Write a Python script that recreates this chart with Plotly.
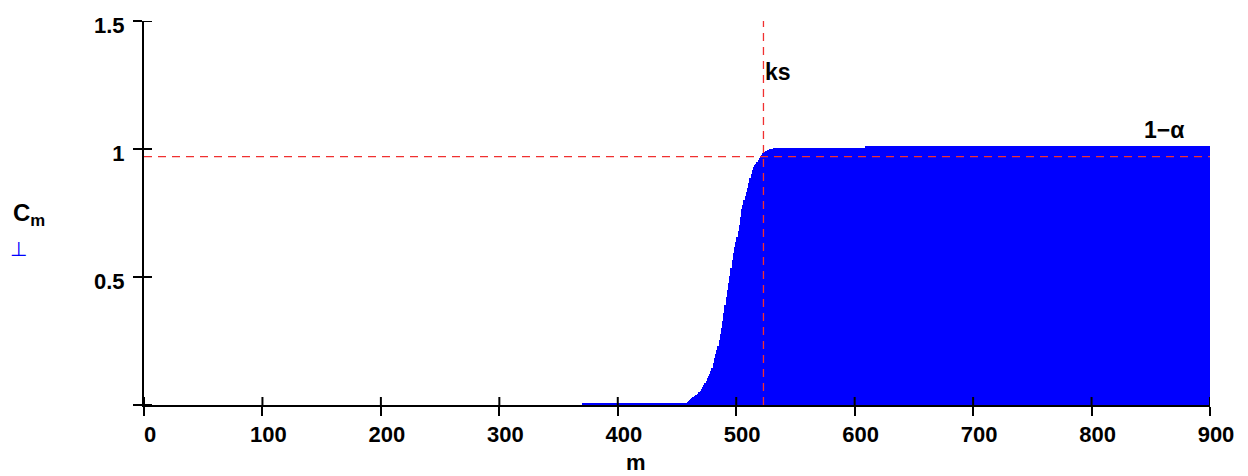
import plotly.graph_objects as go

# ---- data ----
m_first = 371          # first m with a (tiny) bar
low_level = 0.008      # height of the low bars before the rise
rise_first = 459       # first m of the rising part
rise_values = [
    0.012, 0.016, 0.020, 0.024, 0.029, 0.033, 0.036, 0.039, 0.041, 0.044,   # 459-468
    0.050, 0.056, 0.062, 0.070, 0.078, 0.086, 0.095, 0.104, 0.113, 0.122,   # 469-478
    0.132, 0.145, 0.163, 0.183, 0.200, 0.215, 0.230, 0.252, 0.276, 0.300,   # 479-488
    0.330, 0.360, 0.390, 0.420, 0.450, 0.478, 0.505, 0.535, 0.565, 0.595,   # 489-498
    0.617, 0.638, 0.658, 0.678, 0.705, 0.735, 0.765, 0.782, 0.800, 0.815,   # 499-508
    0.832, 0.848, 0.866, 0.885, 0.902, 0.918, 0.930, 0.937, 0.943, 0.950,   # 509-518
    0.957, 0.963, 0.970, 0.977, 0.983, 0.987, 0.991, 0.994, 0.996, 0.998,   # 519-528
    0.999, 1.000, 1.001, 1.002, 1.003,                                      # 529-533
]
plateau1_level = 1.003
plateau1_last = 609
plateau2_level = 1.011
m_last = 900

ks = 523
one_minus_alpha = 0.97

x_ticks = [0, 100, 200, 300, 400, 500, 600, 700, 800, 900]
y_ticks = [0, 0.5, 1, 1.5]
y_tick_text = ["", "0.5", "1", "1.5"]

# ---- assemble the bar series from the read segments ----
rise_last = rise_first + len(rise_values) - 1
m_vals = list(range(m_first, m_last + 1))
C_vals = ([low_level] * (rise_first - m_first)
          + rise_values
          + [plateau1_level] * (plateau1_last - rise_last)
          + [plateau2_level] * (m_last - plateau1_last))

FONT = "Liberation Sans, Arial, sans-serif"
RED = "#F03030"

fig = go.Figure()
fig.add_trace(go.Bar(x=m_vals, y=C_vals,
                     marker=dict(color="#0000FF", line=dict(width=0)),
                     width=1, showlegend=False))
fig.add_trace(go.Scatter(x=[0, m_last], y=[one_minus_alpha, one_minus_alpha], mode="lines",
                         line=dict(color=RED, width=1.3, dash="8px,6px"), showlegend=False))
fig.add_trace(go.Scatter(x=[ks, ks], y=[0, 1.5], mode="lines",
                         line=dict(color=RED, width=1.3, dash="8px,6px"), showlegend=False))

shapes = []
for v in x_ticks:
    shapes.append(dict(type="line", xref="x", yref="y", ysizemode="pixel", yanchor=0,
                       x0=v, x1=v, y0=0, y1=8, line=dict(color="black", width=2)))
for v in y_ticks:
    shapes.append(dict(type="line", xref="x", yref="y", xsizemode="pixel", xanchor=0,
                       y0=v, y1=v, x0=0, x1=8, line=dict(color="black", width=2)))

W, H = 1248, 476
L, R, T, B = 144, 38, 21, 71
pw, ph = W - L - R, H - T - B


def px_to_paper(px, py):
    return (px - L) / pw, (H - B - py) / ph


annotations = [
    dict(x=ks, y=1.30, xref="x", yref="y", text="<b>ks</b>", showarrow=False,
         xanchor="left", yanchor="middle", font=dict(family=FONT, size=23, color="black")),
    dict(x=861, y=1.074, xref="x", yref="y", text="<b>1\u2212\u03b1</b>", showarrow=False,
         xanchor="center", yanchor="middle", font=dict(family=FONT, size=23, color="black")),
]
for txt, px, py, size, color, xa, ya in [
    ("<b>m</b>", 636, 477, 22, "black", "center", "bottom"),
    ("<b>C<sub>m</sub></b>", 11, 215, 24, "black", "left", "middle"),
    ("\u22a5", 8, 249, 20, "#0000FF", "left", "middle"),
]:
    xp, yp = px_to_paper(px, py)
    annotations.append(dict(x=xp, y=yp, xref="paper", yref="paper", text=txt,
                            showarrow=False, xanchor=xa, yanchor=ya,
                            font=dict(family=FONT, size=size, color=color)))

fig.update_layout(
    width=W, height=H,
    margin=dict(l=L, r=R, t=T, b=B, autoexpand=False),
    paper_bgcolor="white", plot_bgcolor="white",
    bargap=0,
    shapes=shapes,
    annotations=annotations,
    font=dict(family=FONT, size=22, color="black"),
    xaxis=dict(range=[0, 900], tickvals=x_ticks, ticktext=[str(v) for v in x_ticks],
               ticks="outside", ticklen=9, tickwidth=2, tickcolor="black",
               showline=True, linecolor="black", linewidth=2, showgrid=False,
               zeroline=False, ticklabelshift=6, automargin=False,
               tickfont=dict(family=FONT, size=22, color="black", weight="bold")),
    yaxis=dict(range=[0, 1.5], tickvals=y_ticks, ticktext=y_tick_text,
               ticks="outside", ticklen=9, tickwidth=2, tickcolor="black",
               showline=True, linecolor="black", linewidth=2, showgrid=False,
               zeroline=False, ticklabelshift=4, ticklabelstandoff=4, automargin=False,
               tickfont=dict(family=FONT, size=22, color="black", weight="bold")),
)

fig.write_html("out.html", config={"displayModeBar": False},
               post_script="document.body.style.margin='0';document.body.style.padding='0';")
